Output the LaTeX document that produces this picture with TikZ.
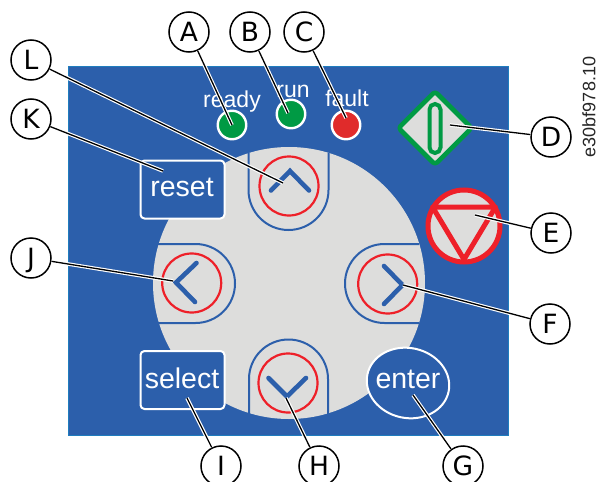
\documentclass[tikz,border=0pt]{standalone}
\usepackage{fontspec}
\setmainfont{Liberation Sans}
\newfontfamily\callfont{DejaVu Sans}
\usetikzlibrary{shapes.geometric}
\pgfdeclarelayer{panel}
\pgfsetlayers{panel,main}
\definecolor{panelblue}{HTML}{2C5FAB}
\definecolor{paneledge}{HTML}{1F7DBE}
\definecolor{keygrey}{HTML}{DDDDDC}
\definecolor{keyred}{HTML}{EE2029}
\definecolor{ledgreen}{HTML}{009A44}
\definecolor{ledred}{HTML}{E02B2B}
\tikzset{
  callout/.style={circle,draw=black,fill=white,line width=1.5pt,minimum size=40pt,inner sep=0pt,
    font=\callfont\fontsize{26.5}{26.5}\selectfont,text height=19pt,text depth=0pt},
  haloline/.style={white,line width=3.6pt},
  leader/.style={black,line width=1.3pt},
  shield/.style={draw=panelblue,line width=2pt},
  redring/.style={draw=keyred,line width=2.2pt},
  chevron/.style={draw=panelblue,line width=4.6pt,line cap=round,line join=miter},
  led/.style={circle,draw=white,line width=2.4pt,minimum size=28.5pt,inner sep=0pt},
  keybox/.style={draw=white,fill=panelblue,line width=2pt,rounded corners=4pt,minimum width=84pt,minimum height=58pt,inner sep=0pt},
  ledtext/.style={white,anchor=base,inner sep=0pt,font=\fontsize{23}{23}\selectfont},
  keytext/.style={white,anchor=base,inner sep=0pt,font=\fontsize{28.5}{28.5}\selectfont}
}
\begin{document}
\begin{tikzpicture}[x=1pt,y=-1pt]
\useasboundingbox (0,0) rectangle (598,482);
\begin{pgfonlayer}{panel}
\fill[white] (0,0) rectangle (598,482);
\draw[fill=panelblue,draw=paneledge,line width=.8pt] (68,66) rectangle (508.5,435);
\fill[keygrey] (289,283) circle[radius=136];
% shields
\draw[shield] (248.5,153) -- (248.5,190) arc[start angle=180,end angle=360,x radius=40,y radius=-40] -- (328.5,153);
\draw[shield] (249,415) -- (249,379) arc[start angle=180,end angle=0,radius=39.5,y radius=-39.5] -- (328,415);
\draw[shield] (157,244) -- (195.5,244) arc[start angle=90,end angle=-90,x radius=39.5,y radius=-39.5] -- (157,323);
\draw[shield] (419,244) -- (384.5,244) arc[start angle=90,end angle=270,x radius=39.5,y radius=-39.5] -- (419,323);
% rings
\draw[redring] (289,186) circle[radius=29.5];
\draw[redring] (288,383) circle[radius=29.5];
\draw[redring] (191.7,283) circle[radius=29.5];
\draw[redring] (387.7,284) circle[radius=29.5];
% chevrons
\draw[chevron] (271,190.5) -- (290,171) -- (309,190.5);
\draw[chevron] (268.5,378) -- (287,396.5) -- (306,378);
\draw[chevron] (196.5,263) -- (176,282.5) -- (195,302);
\draw[chevron] (384,266) -- (402.5,285) -- (384,304);
% leds
\node[led,fill=ledgreen] (ledready) at (232,125) {};
\node[led,fill=ledgreen] (ledrun) at (291,114) {};
\node[led,fill=ledred] (ledfault) at (346,125) {};
\node[ledtext] (tready) at (232,107) {ready};
\node[ledtext] (trun) at (293,97) {run};
\node[ledtext] (tfault) at (347,106) {fault};
% boxes
\node[keybox] (reset) at (182.5,189.5) {};
\node[keytext] (treset) at (182,196) {reset};
\node[keybox] (select) at (182.5,380) {};
\node[keytext] (tselect) at (182,388) {select};
\node[ellipse,draw=white,fill=panelblue,line width=2pt,minimum width=83pt,minimum height=70pt,inner sep=0pt,rotate=-12] (enter) at (408,383) {};
\node[keytext] (tenter) at (408,388) {enter};
% start
\draw[draw=ledgreen,fill=keygrey,line width=4.6pt,line join=round,rounded corners=3pt] (435,91.5) -- (471.5,128) -- (435,164.5) -- (398.5,128) -- cycle;
\draw[draw=ledgreen,line width=4pt,rounded corners=5.5pt] (429.5,104) rectangle (440.5,153);
% stop
\draw[draw=keyred,fill=keygrey,line width=5pt] (464,226) circle[radius=36];
\draw[draw=keyred,line width=5pt,line join=round] (432.5,207) -- (495.5,207) -- (464,259.5) -- cycle;
\end{pgfonlayer}
% callouts
\node[callout] (A) at (189,32) {A};
\node[callout] (B) at (250,32) {B};
\node[callout] (C) at (304,32) {C};
\node[callout] (D) at (551,137) {D};
\node[callout] (E) at (551,233) {E};
\node[callout] (F) at (550,324) {F};
\node[callout] (G) at (463,466) {G};
\node[callout] (H) at (319,466) {H};
\node[callout] (I) at (221,466) {I};
\node[callout] (J) at (31,258) {J};
\node[callout] (K) at (31,119) {K};
\node[callout] (L) at (31,60) {L};
% targets
\coordinate (ea) at (232,125);
\coordinate (eb) at (288,113);
\coordinate (ec) at (346,118);
\coordinate (ed) at (450,125);
\coordinate (ee) at (475,215);
\coordinate (ef) at (403,285);
\coordinate (eg) at (413,395);
\coordinate (eh) at (286,398);
\coordinate (ei) at (187,398);
\coordinate (ej) at (173,281);
\coordinate (ek) at (163,171);
\coordinate (el) at (283,183);
\foreach \p/\q in {A/ea,B/eb,C/ec,D/ed,E/ee,F/ef,G/eg,H/eh,I/ei,J/ej,K/ek,L/el}{
  \draw[haloline] (\p) -- (\q);
  \draw[leader] (\p) -- (\q);
}
\node[rotate=90,inner sep=0pt,font=\fontsize{18}{18}\selectfont,text=black!85] (code) at (589,107) {e30bf978.10};
\end{tikzpicture}
\end{document}
